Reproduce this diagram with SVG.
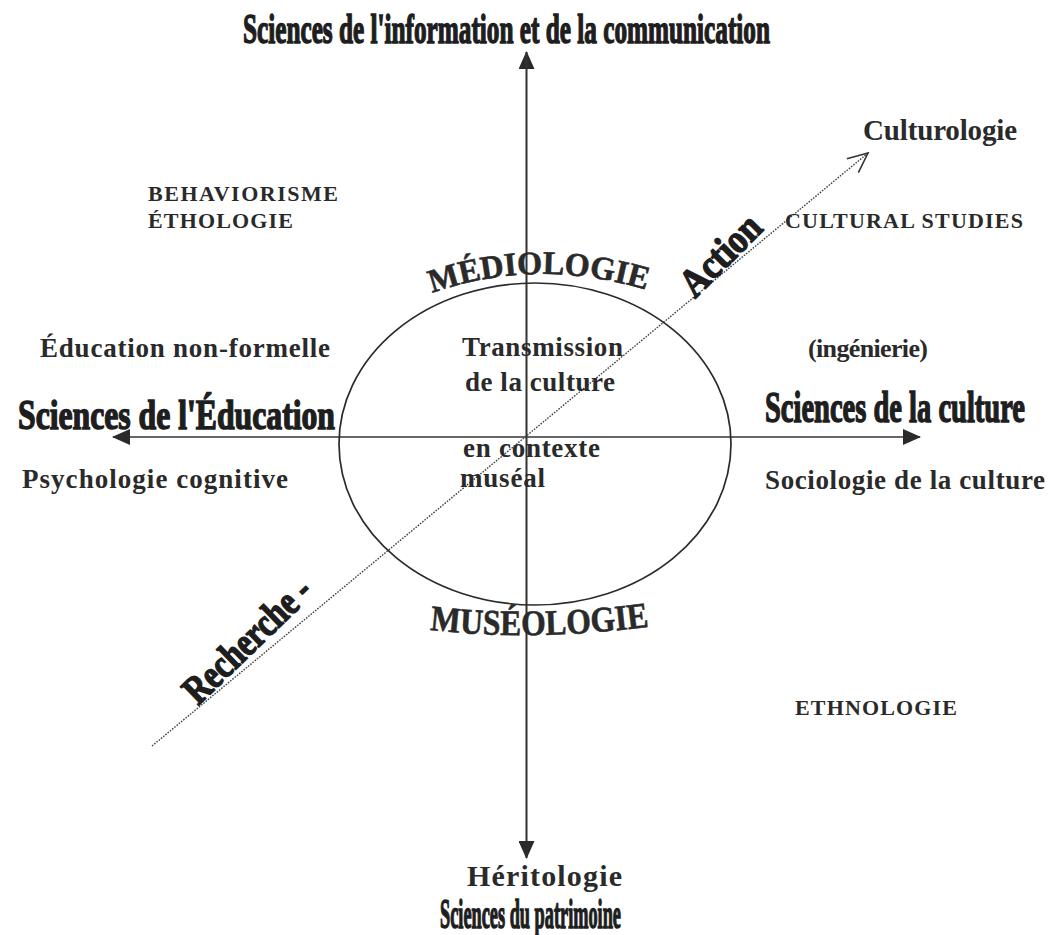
<svg xmlns="http://www.w3.org/2000/svg" width="1049" height="935" viewBox="0 0 1049 935">
<style>
  .t { font-family: "Liberation Serif", "Times New Roman", serif; font-weight: bold; fill: #2a2a2a; }
  .h { font-family: "Liberation Serif", "Times New Roman", serif; font-weight: bold; fill: #1e1e1e; stroke: #1e1e1e; stroke-width: 1.5; }
  .axis { stroke: #333; stroke-width: 1.6; fill: none; }
  .diag { stroke: #444; stroke-width: 1.4; stroke-dasharray: 1.6 1.3; fill: none; }
</style>
<defs>
  <marker id="tri" viewBox="0 0 18 16" refX="17" refY="8" markerWidth="18" markerHeight="16" markerUnits="userSpaceOnUse" orient="auto">
    <path d="M0,0 L18,8 L0,16 Z" fill="#2a2a2a"/>
  </marker>
  <marker id="open" viewBox="0 0 24 22" refX="22" refY="11" markerWidth="24" markerHeight="22" markerUnits="userSpaceOnUse" orient="auto">
    <path d="M2,2 L22,11 L2,20" fill="none" stroke="#333" stroke-width="1.6"/>
  </marker>
  <path id="arcTop" d="M 432 293 Q 541 255 656 293"/>
  <path id="arcBot" d="M 430 630 Q 535 642 654 626"/>
</defs>

<g id="connectors">
  <line class="axis" x1="526.5" y1="858" x2="526.5" y2="52" marker-end="url(#tri)"/>
  <line class="axis" x1="526.5" y1="52" x2="526.5" y2="858" marker-end="url(#tri)"/>
  <line class="axis" x1="526" y1="437" x2="113" y2="437" marker-end="url(#tri)"/>
  <line class="axis" x1="526" y1="437" x2="920" y2="437" marker-end="url(#tri)"/>
  <line class="diag" x1="152" y1="746" x2="868" y2="153" marker-end="url(#open)"/>
</g>

<g id="ellipse">
  <ellipse cx="535" cy="444" rx="196" ry="161" fill="none" stroke="#2a2a2a" stroke-width="1.7"/>
  <text class="t" font-size="33" stroke="#2a2a2a" stroke-width="0.6"><textPath href="#arcTop" textLength="218" lengthAdjust="spacingAndGlyphs">MÉDIOLOGIE</textPath></text>
  <text class="t" font-size="36" stroke="#2a2a2a" stroke-width="0.6"><textPath href="#arcBot" textLength="220" lengthAdjust="spacingAndGlyphs">MUSÉOLOGIE</textPath></text>
</g>

<g id="center-label">
  <text class="t" x="462" y="356" font-size="27" textLength="161">Transmission</text>
  <text class="t" x="465" y="391" font-size="27" textLength="150">de la culture</text>
  <text class="t" x="463" y="457" font-size="27" textLength="137">en contexte</text>
  <text class="t" x="460" y="487" font-size="27" textLength="85">muséal</text>
</g>

<g id="axis-top">
  <text class="h" x="243" y="43" font-size="42" textLength="527" lengthAdjust="spacingAndGlyphs">Sciences de l'information et de la communication</text>
</g>
<g id="axis-left">
  <text class="h" x="18" y="429" font-size="42" textLength="317" lengthAdjust="spacingAndGlyphs">Sciences de l'Éducation</text>
</g>
<g id="axis-right">
  <text class="h" x="765" y="422" font-size="45" textLength="260" lengthAdjust="spacingAndGlyphs">Sciences de la culture</text>
</g>
<g id="axis-bottom">
  <text class="t" x="467" y="886" font-size="30" textLength="155">Héritologie</text>
  <text class="h" x="440" y="928" font-size="42" textLength="181" lengthAdjust="spacingAndGlyphs">Sciences du patrimoine</text>
</g>

<g id="diag-labels">
  <text class="h" font-size="40" transform="translate(695,299) rotate(-45)" textLength="98" lengthAdjust="spacingAndGlyphs">Action</text>
  <text class="h" font-size="40" transform="translate(198,706) rotate(-44)" textLength="162" lengthAdjust="spacingAndGlyphs">Recherche -</text>
  <text class="t" x="863" y="140" font-size="29" textLength="154">Culturologie</text>
</g>

<g id="quadrant-labels">
  <text class="t" x="148" y="201" font-size="22" textLength="190">BEHAVIORISME</text>
  <text class="t" x="148" y="228" font-size="22" textLength="145">ÉTHOLOGIE</text>
  <text class="t" x="785" y="228" font-size="22" textLength="238">CULTURAL STUDIES</text>
  <text class="t" x="40" y="357" font-size="27" textLength="290">Éducation non-formelle</text>
  <text class="t" x="808" y="357" font-size="26" textLength="120">(ingénierie)</text>
  <text class="t" x="22" y="488" font-size="27" textLength="266">Psychologie cognitive</text>
  <text class="t" x="765" y="489" font-size="27" textLength="280">Sociologie de la culture</text>
  <text class="t" x="795" y="715" font-size="22" textLength="162">ETHNOLOGIE</text>
</g>
</svg>
